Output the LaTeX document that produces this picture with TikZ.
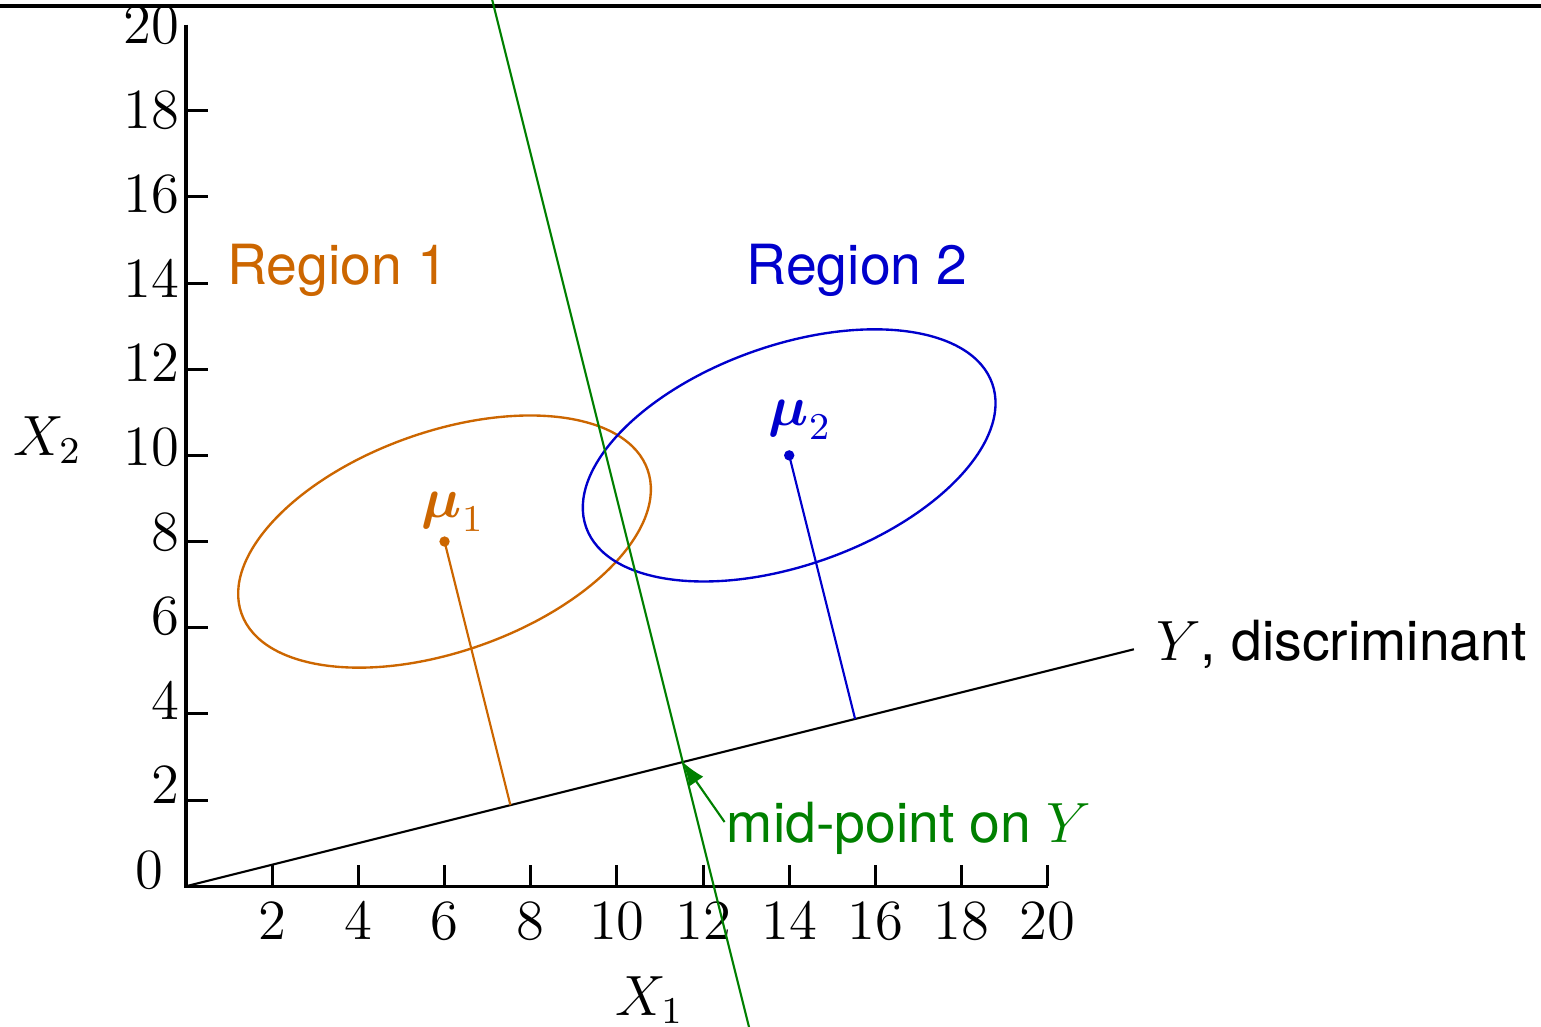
\documentclass[tikz,border=0pt]{standalone}
\usepackage{amsmath,amssymb}
\usepackage{fontspec}
\newfontfamily\labelsf{TeX Gyre Heros}
\usetikzlibrary{calc,arrows.meta}
\definecolor{regone}{HTML}{CC6600}
\definecolor{regtwo}{HTML}{0000CC}
\definecolor{midline}{HTML}{008000}
\newcommand{\sfl}[1]{{\fontsize{11.7}{14}\selectfont\labelsf #1}}
\tikzset{axisline/.style={line width=0.65pt},
  ticklbl/.style={inner sep=0pt},
  plainlbl/.style={inner sep=0pt,anchor=base}}
\begin{document}
\begin{tikzpicture}[x=0.32cm,y=0.32cm,font=\fontsize{12}{14}\selectfont,line width=0.45pt]
\clip (-4.318,-3.25) rectangle (31.45,20.57);
\draw[line width=0.9pt] (-4.318,20.43) -- (31.45,20.43);
\coordinate (O) at (0,0); \coordinate (Yend) at (22,5.5);
\coordinate (mu1) at (6,8); \coordinate (mu2) at (14,10);
\draw[axisline] (0,20) -- (O) -- (20,0);
\foreach \k in {2,4,...,20} {\draw[axisline] (\k,0) -- (\k,0.5); \node[ticklbl,anchor=north] at (\k,-0.37) {$\k$};}
\foreach \k in {2,4,...,18} \draw[axisline] (0,\k) -- (0.5,\k);
\foreach \k in {2,4,...,20} \node[ticklbl,anchor=east] at (-0.14,0.38+0.98*\k) {$\k$};
\node[ticklbl,anchor=east] at (-0.5,0.372) {$0$};
\node[plainlbl] (xlab) at (10.76,-2.99) {$X_1$};
\node[plainlbl] (ylab) at (-3.215,10) {$X_2$};
\draw[regone,line width=0.5pt,rotate=19.5] (mu1) ellipse [x radius=5,y radius=2.55];
\draw[regtwo,line width=0.5pt,rotate=19.5] (mu2) ellipse [x radius=5,y radius=2.55];
\node[plainlbl,text=regone] (reg1) at (3.517,13.97) {\sfl{Region 1}};
\node[plainlbl,text=regtwo] (reg2) at (15.58,13.97) {\sfl{Region 2}};
\draw (O) -- (Yend);
\node[plainlbl,anchor=base west] (ylbl) at (22.49,5.25) {$Y$\sfl{, discriminant}};
\coordinate (f1) at ($(O)!(mu1)!(Yend)$); \coordinate (f2) at ($(O)!(mu2)!(Yend)$);
\coordinate (mid) at ($(f1)!0.5!(f2)$);
\draw[regone] (mu1) -- (f1); \fill[regone] (mu1) circle (1.1pt);
\draw[regtwo] (mu2) -- (f2); \fill[regtwo] (mu2) circle (1.1pt);
\node[regone,ticklbl,anchor=south] (mu1lbl) at ($(mu1)+(0.2,0.22)$) {$\boldsymbol{\mu}_1$};
\node[regtwo,ticklbl,anchor=south] (mu2lbl) at ($(mu2)+(0.255,0.35)$) {$\boldsymbol{\mu}_2$};
\coordinate (gtop) at ($(mid)+4.6*(-1,4)$); \coordinate (gbot) at ($(mid)+1.7*(1,-4)$);
\draw[midline] (gtop) -- (gbot);
\node[plainlbl,anchor=base west,text=midline] (midlbl) at (12.53,1.02) {\sfl{mid-point on }$Y$};
\coordinate (tail) at (12.5,1.49);
\draw[midline,-{Latex[length=5pt,width=3.6pt]}] (tail) -- (mid);
\end{tikzpicture}
\end{document}
